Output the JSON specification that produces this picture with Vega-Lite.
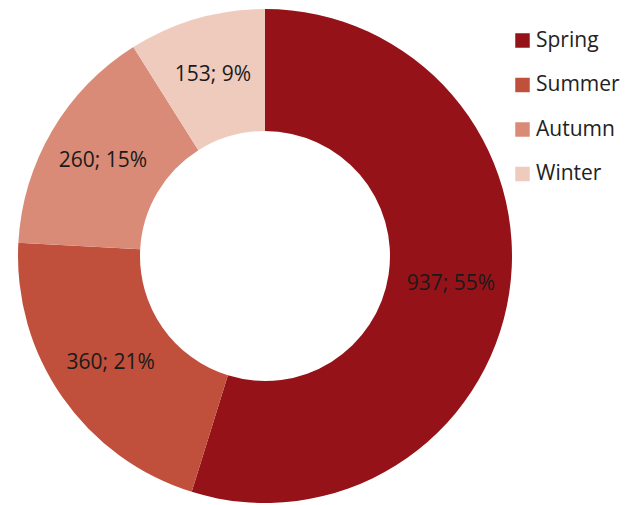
{
  "$schema": "https://vega.github.io/schema/vega-lite/v6.json",
  "autosize": "none",
  "width": 530,
  "height": 500,
  "padding": {"left": 0, "top": 6, "right": 99, "bottom": 0},
  "background": "white",
  "config": {"view": {"stroke": null}},
  "data": {"values": [
    {"season": "Spring", "value": 937, "pct": "55%", "order": 1},
    {"season": "Summer", "value": 360, "pct": "21%", "order": 2},
    {"season": "Autumn", "value": 260, "pct": "15%", "order": 3},
    {"season": "Winter", "value": 153, "pct": "9%", "order": 4}
  ]},
  "transform": [{"calculate": "datum.value + '; ' + datum.pct", "as": "label"}],
  "encoding": {
    "theta": {"field": "value", "type": "quantitative", "stack": true},
    "order": {"field": "order", "type": "quantitative"}
  },
  "layer": [
    {
      "mark": {"type": "arc", "innerRadius": 125, "outerRadius": 247},
      "encoding": {
        "color": {
          "field": "season", "type": "nominal",
          "sort": ["Spring", "Summer", "Autumn", "Winter"],
          "scale": {"domain": ["Spring", "Summer", "Autumn", "Winter"], "range": ["#951219", "#C0503B", "#D98B77", "#EFCBBE"]},
          "legend": {
            "title": null, "orient": "none", "legendX": 512, "legendY": 24,
            "symbolType": "square", "symbolSize": 210, "symbolStrokeWidth": 0,
            "labelFont": "Open Sans", "labelFontSize": 21, "labelColor": "#222222",
            "rowPadding": 22.5, "labelOffset": 3
          }
        }
      }
    },
    {
      "mark": {"type": "text", "radius": 188, "font": "Open Sans", "fontSize": 21, "color": "#1a1a1a"},
      "encoding": {"text": {"field": "label", "type": "nominal"}}
    }
  ]
}
